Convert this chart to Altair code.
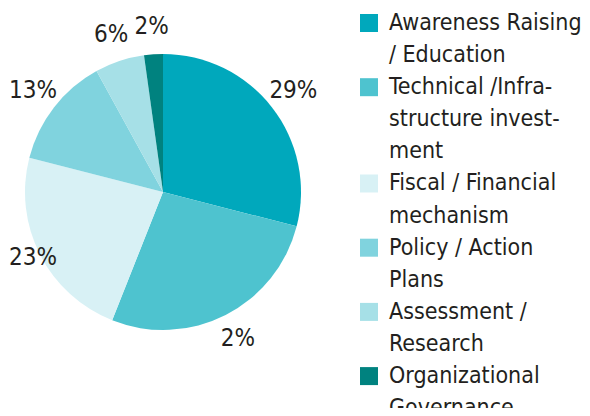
import altair as alt
import pandas as pd

categories = ["Awareness Raising / Education", "Technical /Infrastructure investment",
              "Fiscal / Financial mechanism", "Policy / Action Plans",
              "Assessment / Research", "Organizational Governance"]
values = [29, 27, 23, 13, 5.8, 2.2]
labels = ["29%", "2%", "23%", "13%", "6%", "2%"]
legend_lines = [["Awareness Raising", "/ Education"],
                ["Technical /Infra-", "structure invest-", "ment"],
                ["Fiscal / Financial", "mechanism"],
                ["Policy / Action", "Plans"],
                ["Assessment /", "Research"],
                ["Organizational", "Governance"]]
colors = ["#00A8BC", "#4EC3CF", "#D8F1F5", "#80D3DE", "#A6E0E7", "#00827F"]

FONT = "DejaVu Sans Condensed"
TXT = "#231F20"

pie_df = pd.DataFrame({"cat": categories, "value": values, "label": labels,
                       "idx": list(range(len(categories)))})

rows = []
r = 0
for cat, lines in zip(categories, legend_lines):
    for j, t in enumerate(lines):
        rows.append({"cat": cat, "text": t, "row": r, "first": j == 0})
        r += 1
leg_df = pd.DataFrame(rows)

color_scale = alt.Scale(domain=categories, range=colors)

arcs = alt.Chart(pie_df).mark_arc(radius=138).encode(
    theta=alt.Theta("value:Q", stack=True),
    order=alt.Order("idx:Q"),
    color=alt.Color("cat:N", scale=color_scale, legend=None),
)

# labels sit at the slice mid-angle; the radius is pulled in where the
# left edge of the canvas leaves no room
texts = alt.Chart(pie_df).transform_joinaggregate(
    total="sum(value)"
).transform_window(
    cum="sum(value)", sort=[alt.SortField("idx")], frame=[None, 0]
).transform_calculate(
    mid="2*PI*(datum.cum - datum.value/2)/datum.total"
).transform_calculate(
    lr="min(165, 130/max(0.01, -sin(datum.mid)))"
).mark_text(font=FONT, fontSize=24, color=TXT).encode(
    theta=alt.Theta("mid:Q", scale=None, stack=None),
    radius=alt.Radius("lr:Q", scale=None),
    text="label:N",
)
pie = alt.layer(arcs, texts).properties(width=310, height=368)

yscale = alt.Scale(domain=[-0.467, 11.994], reverse=True, nice=False, zero=False)
leg_base = alt.Chart(leg_df).encode(y=alt.Y("row:Q", scale=yscale, axis=None))
squares = leg_base.transform_filter("datum.first").mark_square(
    size=324, opacity=1, clip=True).encode(
    x=alt.value(51),
    color=alt.Color("cat:N", scale=color_scale, legend=None),
)
ltext = leg_base.mark_text(font=FONT, fontSize=23, color=TXT, align="left",
                           baseline="middle", clip=True).encode(
    x=alt.value(71), text="text:N"
)
legend = alt.layer(squares, ltext).properties(width=264, height=400)

chart = alt.hconcat(pie, legend, spacing=0).properties(padding=0).configure_view(
    strokeWidth=0
)

chart.save("out.html", embed_options={"renderer": "svg", "actions": False})
